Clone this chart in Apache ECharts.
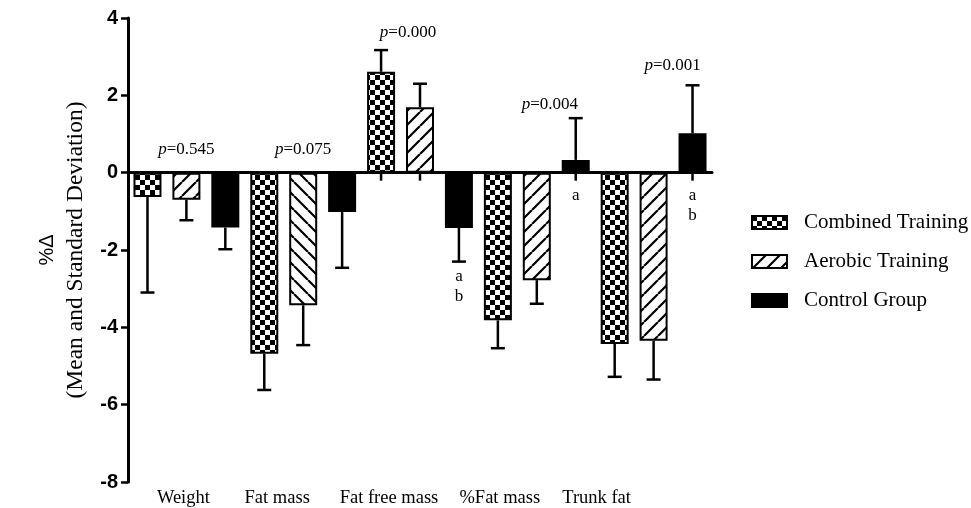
<!DOCTYPE html>
<html>
<head>
<meta charset="utf-8">
<script src="https://cdn.jsdelivr.net/npm/echarts@6/dist/echarts.min.js"></script>
<style>
  html, body { margin: 0; padding: 0; background: #fff; }
  #chart { width: 971px; height: 508px; }
</style>
</head>
<body>
<div id="chart"></div>
<script>
const categories = ["Weight", "Fat mass", "Fat free mass", "%Fat mass", "Trunk fat"];
const combinedMean = [-0.63, -4.68, 2.61, -3.82, -4.43];
const combinedSD = [2.47, 0.94, 0.56, 0.72, 0.85];
const aerobicMean = [-0.70, -3.43, 1.69, -2.78, -4.35];
const aerobicSD = [0.53, 1.03, 0.61, 0.61, 1.00];
const controlMean = [-1.42, -1.02, -1.43, 0.33, 1.02];
const controlSD = [0.56, 1.44, 0.87, 1.08, 1.24];
const pValues = ["0.545", "0.075", "0.000", "0.004", "0.001"];
const pHeights = [0.6, 0.6, 3.63, 1.77, 2.76];
const controlLetters = ["", "", "a\nb", "a", "a\nb"];
const yTicks = [-8, -6, -4, -2, 0, 2, 4];

const serif = "'Liberation Serif', 'Times New Roman', serif";
const sans = "'Liberation Sans', Arial, sans-serif";

// fill patterns
function checker() {
  const c = document.createElement("canvas");
  c.width = c.height = 10;
  const ctx = c.getContext("2d");
  ctx.fillStyle = "#fff";
  ctx.fillRect(0, 0, 10, 10);
  ctx.fillStyle = "#000";
  ctx.fillRect(0, 0, 5, 5);
  ctx.fillRect(5, 5, 5, 5);
  return c;
}
function hatch(back) {
  const s = 14;
  const c = document.createElement("canvas");
  c.width = c.height = s;
  const ctx = c.getContext("2d");
  ctx.fillStyle = "#fff";
  ctx.fillRect(0, 0, s, s);
  ctx.strokeStyle = "#000";
  ctx.lineWidth = 2.2;
  ctx.beginPath();
  for (let k = -1; k <= 1; k++) {
    if (back) {
      ctx.moveTo(k * s, 0); ctx.lineTo(k * s + s, s);
    } else {
      ctx.moveTo(k * s, s); ctx.lineTo(k * s + s, 0);
    }
  }
  ctx.stroke();
  return c;
}
const checkFill = { image: checker(), repeat: "repeat" };
const hatchFill = { image: hatch(false), repeat: "repeat" };
const backHatchFill = { image: hatch(true), repeat: "repeat" };

const barWidth = 28;
const barGapRatio = 0.39;
const pitch = barWidth * (1 + barGapRatio);

// error bar items: [category, mean, sd, group]
const errData = [];
[[combinedMean, combinedSD], [aerobicMean, aerobicSD], [controlMean, controlSD]].forEach((pair, g) => {
  pair[0].forEach((m, i) => errData.push([i, m, pair[1][i], g]));
});

const labelShift = [6, 52, 62, 74, 114];
const pShift = [0, 0, -12, 13, 19];

const chart = echarts.init(document.getElementById("chart"));
const option = {
  animation: false,
  backgroundColor: "#fff",
  grid: { left: 128, right: 259, top: 18, bottom: 26 },
  legend: {
    orient: "vertical",
    left: 751,
    top: 211,
    padding: 0,
    itemWidth: 35,
    itemHeight: 13,
    itemGap: 16,
    icon: "rect",
    data: ["Combined Training", "Aerobic Training", "Control Group"],
    textStyle: { fontFamily: serif, fontSize: 21, color: "#000", padding: [0, 0, 0, 12], lineHeight: 23 }
  },
  xAxis: [
    {
      type: "category",
      data: categories,
      axisLine: { onZero: true, lineStyle: { color: "#000", width: 3 } },
      axisTick: { show: false },
      axisLabel: { show: false }
    },
    {
      type: "category",
      data: categories,
      position: "bottom",
      axisLine: { show: false, onZero: false },
      axisTick: { show: false },
      axisLabel: {
        interval: 0,
        hideOverlap: false,
        margin: 7,
        fontFamily: serif,
        fontSize: 18.5,
        color: "#000",
        formatter: (v, i) => `{l${i}|${v}}`,
        rich: Object.fromEntries(labelShift.map((p, i) => ["l" + i, { padding: [0, p, 0, 0], fontFamily: serif, fontSize: 18.5, color: "#000" }]))
      }
    }
  ],
  yAxis: {
    type: "value",
    min: yTicks[0],
    max: yTicks[yTicks.length - 1],
    interval: 2,
    splitLine: { show: false },
    axisLine: { show: true, lineStyle: { color: "#000", width: 3 } },
    axisTick: { show: true, length: 7, lineStyle: { color: "#000", width: 2.5 } },
    axisLabel: { margin: 10, fontFamily: sans, fontWeight: "bold", fontSize: 20, color: "#000" },
    name: "{d|%Δ}\n{m|(Mean and Standard Deviation)}",
    nameLocation: "middle",
    nameRotate: 90,
    nameGap: 38,
    nameTextStyle: {
      rich: {
        d: { fontFamily: sans, fontSize: 20, color: "#000", lineHeight: 30 },
        m: { fontFamily: serif, fontSize: 23.5, color: "#000", lineHeight: 28 }
      }
    }
  },
  series: [
    {
      name: "Combined Training",
      type: "bar",
      barWidth: barWidth,
      barGap: barGapRatio * 100 + "%",
      data: combinedMean,
      itemStyle: { color: checkFill, borderColor: "#000", borderWidth: 2 }
    },
    {
      name: "Aerobic Training",
      type: "bar",
      barWidth: barWidth,
      barGap: barGapRatio * 100 + "%",
      data: aerobicMean.map((v, i) => (i === 1 ? { value: v, itemStyle: { color: backHatchFill } } : v)),
      itemStyle: { color: hatchFill, borderColor: "#000", borderWidth: 2 }
    },
    {
      name: "Control Group",
      type: "bar",
      barWidth: barWidth,
      barGap: barGapRatio * 100 + "%",
      data: controlMean,
      itemStyle: { color: "#000", borderColor: "#000", borderWidth: 2 }
    },
    {
      type: "custom",
      z: 5,
      data: errData,
      renderItem: (params, api) => {
        const cat = api.value(0), m = api.value(1), sd = api.value(2), g = api.value(3);
        const end = m >= 0 ? m + sd : m - sd;
        const zero = api.coord([cat, 0]);
        const p0 = api.coord([cat, m]);
        const p1 = api.coord([cat, end]);
        const x = zero[0] + (g - 1) * pitch;
        const st = { stroke: "#000", lineWidth: 2.5 };
        const children = [
          { type: "line", shape: { x1: x, y1: p0[1], x2: x, y2: p1[1] }, style: st },
          { type: "line", shape: { x1: x - 7, y1: p1[1], x2: x + 7, y2: p1[1] }, style: st }
        ];
        if (m > 0) {
          children.push({ type: "line", shape: { x1: x, y1: zero[1], x2: x, y2: zero[1] + 8 }, style: st });
        }
        if (g === 2 && controlLetters[cat]) {
          const y = m > 0 ? zero[1] + 13 : p1[1] + 5;
          children.push({
            type: "text",
            x: x, y: y,
            style: { text: controlLetters[cat], fill: "#000", font: "17px " + serif, align: "center", verticalAlign: "top", lineHeight: 20 }
          });
        }
        return { type: "group", children: children };
      }
    },
    {
      type: "custom",
      z: 6,
      data: pHeights.map((h, i) => [i, h]),
      renderItem: (params, api) => {
        const pt = api.coord([api.value(0), api.value(1)]);
        return {
          type: "text",
          x: pt[0] + pShift[params.dataIndex],
          y: pt[1],
          style: {
            text: `{i|p}{n|=${pValues[params.dataIndex]}}`,
            align: "center",
            verticalAlign: "middle",
            rich: {
              i: { fontFamily: serif, fontStyle: "italic", fontSize: 17, fill: "#000" },
              n: { fontFamily: serif, fontSize: 17, fill: "#000" }
            }
          }
        };
      }
    }
  ]
};
chart.setOption(option);
</script>
</body>
</html>
